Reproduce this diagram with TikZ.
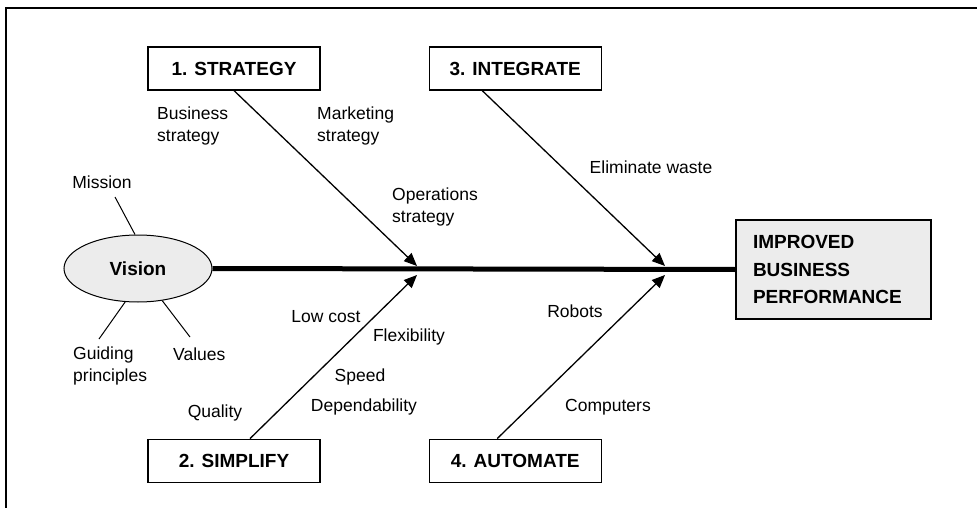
\documentclass[tikz,border=0pt]{standalone}
\usepackage{fontspec}
\setmainfont{Liberation Sans}
\usetikzlibrary{shapes.geometric, arrows.meta, positioning}
\tikzset{
  headbox/.style={rectangle, draw=black, line width=1.2pt,
    minimum width=172pt, minimum height=43pt, inner sep=0pt,
    text centered, font=\fontsize{19}{23}\selectfont\bfseries},
  goalbox/.style={rectangle, draw=black, line width=1.2pt, fill=gray!15,
    minimum height=99pt, inner xsep=17pt, text width=161pt,
    align=left, font=\fontsize{19}{27.5}\selectfont\bfseries},
  visionnode/.style={ellipse, draw=black, line width=1pt, fill=gray!15,
    minimum width=148pt, minimum height=67pt, inner sep=0pt,
    font=\fontsize{19}{23}\selectfont\bfseries},
  cause/.style={font=\fontsize{17.5}{22}\selectfont, inner sep=0pt, align=left},
  arr/.style={-{Triangle[length=13pt, width=11pt]}, line width=1.3pt},
  spine/.style={line width=5pt},
  twig/.style={line width=1pt},
}
\begin{document}
\begin{tikzpicture}[x=1pt, y=-1pt]
\useasboundingbox (0,0) rectangle (977,508);
\draw[line width=1.5pt] (6,508) -- (6,8) -- (977,8);

% category boxes
\node (strat) [headbox] at (234,68.5) {1. STRATEGY};
\node (integ) [headbox, right=108pt of strat] {3. INTEGRATE};
\node (simp)  [headbox, below=348pt of strat] {2. SIMPLIFY};
\node (auto)  [headbox, right=108pt of simp] {4. AUTOMATE};

\node (vision) [visionnode] at (138,268.5) {Vision};
\node (result) [goalbox] at (833.5,269.5)
  {IMPROVED\\BUSINESS\\PERFORMANCE};

% joints on the spine
\coordinate (j1a) at (417,266);
\coordinate (j1b) at (417,275);
\coordinate (j2a) at (665,266);
\coordinate (j2b) at (665,275);

\draw[spine] (vision.east) -- (result.west);

\draw[arr] (strat.south) -- (j1a);
\draw[arr] ([xshift=16pt]simp.north) -- (j1b);
\draw[arr] ([xshift=-33pt]integ.south) -- (j2a);
\draw[arr] ([xshift=-18pt]auto.north) -- (j2b);

% vision twigs
\coordinate (mis) at (115,197);
\coordinate (gui) at (99,339);
\coordinate (val) at (190,337);
\draw[twig] (vision.95) -- (mis);
\draw[twig] (vision.-111) -- (gui);
\draw[twig] (vision.-53) -- (val);

\node (mission) [cause] at (102,182) {Mission};
\node (guiding) [cause, anchor=west] at (73,366) {Guiding\\principles};
\node (values)  [cause, anchor=west] at (173,354) {Values};

% causes
\node (busi)  [cause, anchor=west] at (157,126) {Business\\strategy};
\node (mark)  [cause, anchor=west] at (317,126) {Marketing\\strategy};
\node (oper)  [cause, anchor=west] at (392,207) {Operations\\strategy};
\node (waste) [cause] at (651,167) {Eliminate waste};
\node (cost)  [cause] at (326,317) {Low cost};
\node (flex)  [cause] at (409,337) {Flexibility};
\node (speed) [cause] at (360,377) {Speed};
\node (dep)   [cause] at (364,407) {Dependability};
\node (qual)  [cause] at (215,413) {Quality};
\node (robot) [cause] at (575,311) {Robots};
\node (comp)  [cause] at (608,407) {Computers};

\end{tikzpicture}
\end{document}
